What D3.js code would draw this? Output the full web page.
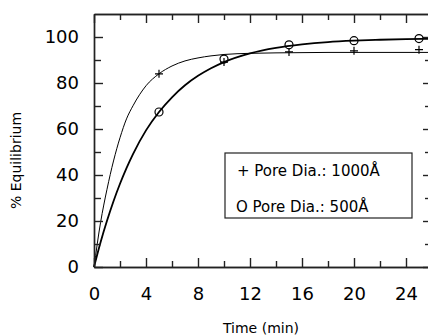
<!DOCTYPE html>
<html>
<head>
<meta charset="utf-8">
<script src="https://cdn.jsdelivr.net/npm/d3@7"></script>
<style>
  body { margin: 0; background: #fff; }
  text { font-family: "DejaVu Sans", sans-serif; fill: #000; }
</style>
</head>
<body>
<div id="chart"></div>
<script>
// measured points
const times = [5, 10, 15, 20, 25];
const pore1000 = [84, 89.1, 93.5, 94, 94.5];
const pore500 = [67.4, 90.4, 96.6, 98.4, 99.3];

// fitted curves
const curveT = [0, 0.5, 1, 1.5, 2, 2.5, 3, 4, 5, 6, 7, 8, 9, 10, 12, 14, 16, 18, 20, 22, 24, 26];
const fit1000 = [0, 19.2, 33.8, 46.1, 56.2, 64.4, 70.1, 78.8, 84, 87.4, 89.6, 90.9, 91.8, 92.4, 92.9, 93.1, 93.2, 93.3, 93.3, 93.3, 93.3, 93.3];
const fit500 = [0, 10.7, 20.1, 28.6, 36.2, 43, 49.1, 59.4, 67.4, 73.8, 79, 83.1, 86.4, 89.1, 92.9, 95.3, 96.8, 97.8, 98.4, 98.8, 99.1, 99.2];

const xMajor = [0, 4, 8, 12, 16, 20, 24];
const xMinor = [2, 6, 10, 14, 18, 22];
const yMajor = [0, 20, 40, 60, 80, 100];
const yMinor = [10, 30, 50, 70, 90];

const width = 428, height = 336;
const margin = { top: 14, right: -4, bottom: 69, left: 94 };

const svg = d3.select("#chart").append("svg")
  .attr("width", width)
  .attr("height", height);

const x = d3.scaleLinear().domain([0, 26]).range([margin.left, width - margin.right]);
const y = d3.scaleLinear().domain([0, 110]).range([height - margin.bottom, margin.top]);

const line = d3.line().x(d => x(d[0])).y(d => y(d[1])).curve(d3.curveMonotoneX);

svg.append("path")
  .datum(curveT.map((t, i) => [t, fit1000[i]]))
  .attr("fill", "none").attr("stroke", "#000").attr("stroke-width", 1)
  .attr("d", line);

svg.append("path")
  .datum(curveT.map((t, i) => [t, fit500[i]]))
  .attr("fill", "none").attr("stroke", "#000").attr("stroke-width", 1.8)
  .attr("d", line);

// axes: inward ticks on all four sides
const gBottom = svg.append("g").attr("transform", `translate(0,${y(0)})`);
gBottom.call(d3.axisBottom(x).tickValues(xMajor).tickSizeInner(-9).tickSizeOuter(0).tickPadding(20).tickFormat(d3.format("d")));
gBottom.append("g").call(d3.axisBottom(x).tickValues(xMinor).tickSizeInner(-6).tickSizeOuter(0).tickFormat(""));

const gTop = svg.append("g").attr("transform", `translate(0,${y(110)})`);
gTop.call(d3.axisTop(x).tickValues(xMajor).tickSizeInner(-9).tickSizeOuter(0).tickFormat(""));
gTop.append("g").call(d3.axisTop(x).tickValues(xMinor).tickSizeInner(-6).tickSizeOuter(0).tickFormat(""));

const gLeft = svg.append("g").attr("transform", `translate(${x(0)},0)`);
gLeft.call(d3.axisLeft(y).tickValues(yMajor).tickSizeInner(-9).tickSizeOuter(0).tickPadding(15).tickFormat(d3.format("d")));
gLeft.append("g").call(d3.axisLeft(y).tickValues(yMinor).tickSizeInner(-7).tickSizeOuter(0).tickFormat(""));

const gRight = svg.append("g").attr("transform", `translate(${x(26)},0)`);
gRight.call(d3.axisRight(y).tickValues(yMajor).tickSizeInner(-9).tickSizeOuter(0).tickFormat(""));
gRight.append("g").call(d3.axisRight(y).tickValues(yMinor).tickSizeInner(-7).tickSizeOuter(0).tickFormat(""));

svg.selectAll(".domain, .tick line").attr("stroke", "#222").attr("stroke-width", 1.4);
svg.selectAll(".tick text").style("font-size", "18px").attr("fill", "#000");

// markers
svg.append("g").selectAll("path")
  .data(times.map((t, i) => [t, pore1000[i]]))
  .join("path")
  .attr("d", d => `M${x(d[0]) - 4},${y(d[1])}h8M${x(d[0])},${y(d[1]) - 4}v8`)
  .attr("stroke", "#000").attr("stroke-width", 1.2);

svg.append("g").selectAll("circle")
  .data(times.map((t, i) => [t, pore500[i]]))
  .join("circle")
  .attr("cx", d => x(d[0])).attr("cy", d => y(d[1])).attr("r", 4)
  .attr("fill", "none").attr("stroke", "#000").attr("stroke-width", 1.2);

// legend
svg.append("rect")
  .attr("x", 225).attr("y", 153).attr("width", 187).attr("height", 65)
  .attr("fill", "#fff").attr("stroke", "#222").attr("stroke-width", 1.2);
svg.append("text").attr("x", 237).attr("y", 176).style("font-size", "15px").text("+ Pore Dia.: 1000Å");
svg.append("text").attr("x", 236).attr("y", 212).style("font-size", "15px").text("O Pore Dia.: 500Å");

// axis titles
svg.append("text")
  .attr("x", (x(0) + x(26)) / 2 - 2).attr("y", 333)
  .attr("text-anchor", "middle").style("font-size", "14px")
  .text("Time (min)");
svg.append("text")
  .attr("transform", `translate(21,${(y(0) + y(110)) / 2 + 20}) rotate(-90)`)
  .attr("text-anchor", "middle").style("font-size", "14px")
  .text("% Equilibrium");
</script>
</body>
</html>
